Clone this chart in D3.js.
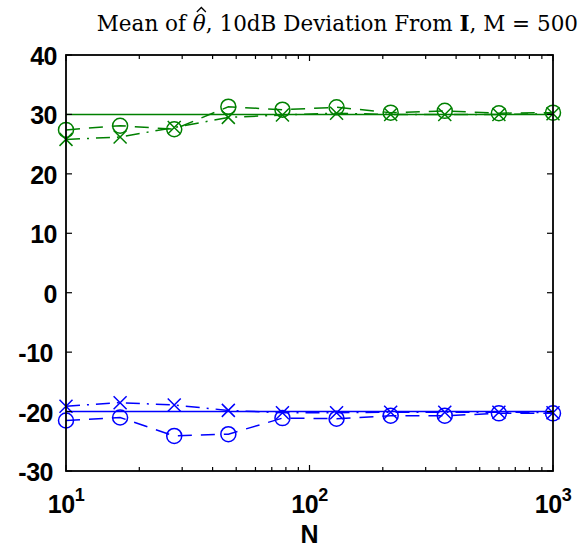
<!DOCTYPE html>
<html><head><meta charset="utf-8">
<script src="https://cdn.jsdelivr.net/npm/d3@7"></script>
<style>body{margin:0;background:#fff}</style>
</head><body>
<script>
const N = [10, 16.68, 27.83, 46.42, 77.43, 129.15, 215.44, 359.38, 599.48, 1000];
const trueHigh = 30;
const trueLow = -20;
const greenCircle = [27.4, 28.1, 27.5, 31.3, 30.8, 31.2, 30.3, 30.6, 30.2, 30.3];
const greenCross  = [25.8, 26.2, 27.8, 29.5, 29.9, 30.2, 30.0, 30.0, 30.0, 30.1];
const blueCircle  = [-21.5, -21.0, -24.1, -23.8, -21.1, -21.2, -20.7, -20.7, -20.3, -20.3];
const blueCross   = [-19.1, -18.5, -18.9, -19.8, -20.2, -20.2, -20.1, -20.1, -20.1, -20.2];
const yTicks = [-30, -20, -10, 0, 10, 20, 30, 40];
const xTicks = [10, 100, 1000];
const xTickExp = ["1", "2", "3"];

const W = 581, H = 550;
const m = {l: 66, r: 28, t: 55, b: 79};
const svg = d3.select("body").append("svg").attr("width", W).attr("height", H);
const x = d3.scaleLog().domain([10, 1000]).range([m.l, W - m.r]);
const y = d3.scaleLinear().domain([-30, 40]).range([H - m.b, m.t]);
const GREEN = "rgb(0,128,0)", BLUE = "rgb(0,0,255)";
const SANS = "Liberation Sans, Arial, sans-serif";

const x0 = x.range()[0], x1 = x.range()[1], y0 = y.range()[0], y1 = y.range()[1];

svg.append("clipPath").attr("id","c").append("rect").attr("x",x0).attr("y",y1).attr("width",x1-x0).attr("height",y0-y1);
const g = svg.append("g").attr("clip-path","url(#c)");

[[trueHigh, GREEN],[trueLow, BLUE]].forEach(([v,c])=>{
  g.append("line").attr("x1",x0).attr("x2",x1).attr("y1",y(v)).attr("y2",y(v))
   .attr("stroke",c).attr("stroke-width",1.5);
});

const line = d3.line().x((d,i)=>x(N[i])).y(d=>y(d));
function series(vals, color, dash, marker){
  svg.append("path").datum(vals).attr("d", line).attr("fill","none")
    .attr("stroke", color).attr("stroke-width", 1.5).attr("stroke-dasharray", dash);
  const mg = svg.append("g");
  vals.forEach((v,i)=>{
    const cx = x(N[i]), cy = y(v);
    if (marker === "o") {
      mg.append("circle").attr("cx",cx).attr("cy",cy).attr("r",7.5)
        .attr("fill","none").attr("stroke",color).attr("stroke-width",1.5);
    } else {
      const s = 6.5;
      mg.append("path").attr("d",`M${cx-s},${cy-s}L${cx+s},${cy+s}M${cx-s},${cy+s}L${cx+s},${cy-s}`)
        .attr("stroke",color).attr("stroke-width",1.5).attr("fill","none");
    }
  });
}
series(greenCircle, GREEN, "14,9", "o");
series(greenCross, GREEN, "14,7,2,7", "x");
series(blueCircle, BLUE, "14,9", "o");
series(blueCross, BLUE, "14,7,2,7", "x");

svg.append("rect").attr("x",x0).attr("y",y1).attr("width",x1-x0).attr("height",y0-y1)
  .attr("fill","none").attr("stroke","#000").attr("stroke-width",1.8);

const tl = 6;
yTicks.forEach(t=>{
  const yy = y(t);
  svg.append("line").attr("x1",x0).attr("x2",x0+tl).attr("y1",yy).attr("y2",yy).attr("stroke","#000").attr("stroke-width",1.2);
  svg.append("line").attr("x1",x1).attr("x2",x1-tl).attr("y1",yy).attr("y2",yy).attr("stroke","#000").attr("stroke-width",1.2);
  svg.append("text").attr("x", t < 0 ? x0-13 : x0-9).attr("y",yy+10).attr("text-anchor","end")
    .attr("font-family",SANS).attr("font-weight","bold").attr("font-size",25)
    .attr("letter-spacing", -0.5)
    .text(t);
});
const allX = [];
for (let d=10; d<1000; d*=10) for (let k=1;k<10;k++) allX.push(d*k);
allX.push(1000);
allX.forEach(t=>{
  const xx = x(t);
  const len = xTicks.includes(t) ? tl : 4;
  svg.append("line").attr("x1",xx).attr("x2",xx).attr("y1",y0).attr("y2",y0-len).attr("stroke","#000").attr("stroke-width",1.2);
  svg.append("line").attr("x1",xx).attr("x2",xx).attr("y1",y1).attr("y2",y1+len).attr("stroke","#000").attr("stroke-width",1.2);
});
xTicks.forEach((t,i)=>{
  const tx = svg.append("text").attr("x",x(t)).attr("y",y0+42).attr("text-anchor","middle")
    .attr("font-family",SANS).attr("font-weight","bold").attr("font-size",25).attr("letter-spacing",-0.5);
  tx.append("tspan").text("10");
  tx.append("tspan").attr("dy",-12).attr("font-size",18).text(xTickExp[i]);
});
svg.append("text").attr("x",(x0+x1)/2).attr("y",543).attr("text-anchor","middle")
  .attr("font-family",SANS).attr("font-weight","bold").attr("font-size",25).text("N");

// title
const tBase = 31;
const title = svg.append("text").attr("x",578).attr("y",tBase).attr("text-anchor","end")
  .attr("font-family","DejaVu Serif, Liberation Serif, serif").attr("font-size",21.5);
title.append("tspan").text("Mean of ");
const th = title.append("tspan").attr("font-style","italic").text("\u03B8");
title.append("tspan").text(", 10dB Deviation From ");
title.append("tspan").attr("font-weight","bold").text("I");
title.append("tspan").text(", M = 500");
const bb = th.node().getBBox();
const hx = bb.x + bb.width/2 + 2;
svg.append("path").attr("d", `M${hx-4.5},${tBase-19}L${hx},${tBase-23.5}L${hx+4.5},${tBase-19}`)
  .attr("fill","none").attr("stroke","#000").attr("stroke-width",1.3);
</script>
</body></html>
